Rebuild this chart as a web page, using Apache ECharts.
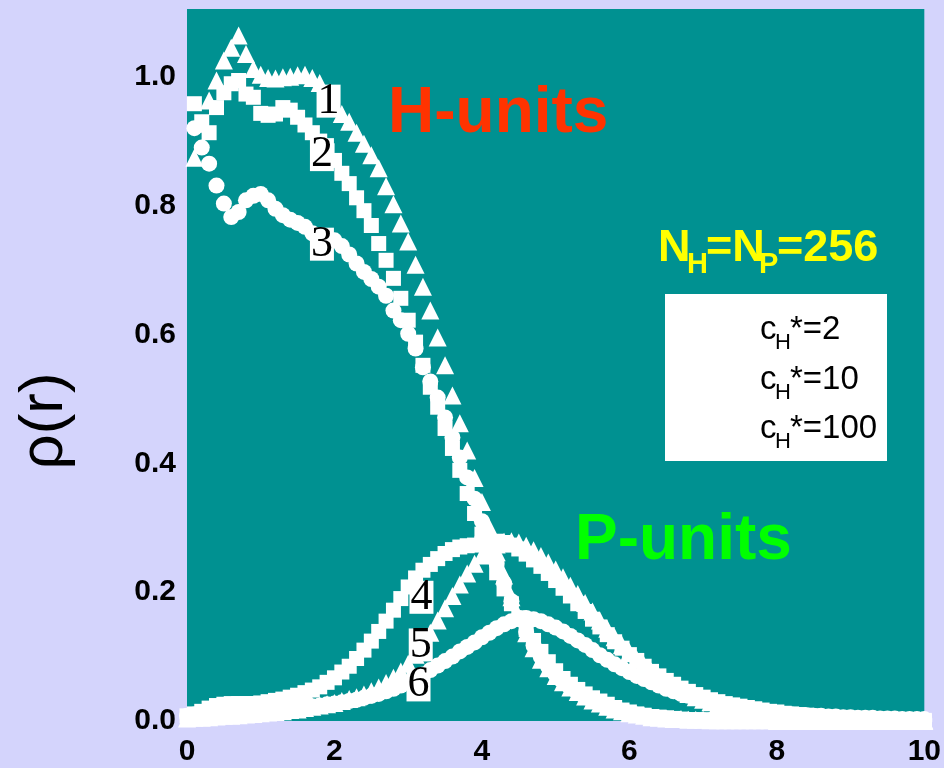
<!DOCTYPE html>
<html>
<head>
<meta charset="utf-8">
<script src="https://cdn.jsdelivr.net/npm/echarts@6/dist/echarts.min.js"></script>
<style>
  html, body { margin: 0; padding: 0; background: #d4d4fc; }
  #main { width: 944px; height: 768px; }
</style>
</head>
<body>
<div id="main"></div>
<script>
// r grid shared by all curves
const r = [0, 0.1, 0.2, 0.3, 0.4, 0.5, 0.6, 0.7, 0.8, 0.9,
  1.0, 1.1, 1.2, 1.3, 1.4, 1.5, 1.6, 1.7, 1.8, 1.9,
  2.0, 2.1, 2.2, 2.3, 2.4, 2.5, 2.6, 2.7, 2.8, 2.9,
  3.0, 3.1, 3.2, 3.3, 3.4, 3.5, 3.6, 3.7, 3.8, 3.9,
  4.0, 4.1, 4.2, 4.3, 4.4, 4.5, 4.6, 4.7, 4.8, 4.9,
  5.0, 5.1, 5.2, 5.3, 5.4, 5.5, 5.6, 5.7, 5.8, 5.9,
  6.0, 6.1, 6.2, 6.3, 6.4, 6.5, 6.6, 6.7, 6.8, 6.9,
  7.0, 7.1, 7.2, 7.3, 7.4, 7.5, 7.6, 7.7, 7.8, 7.9,
  8.0, 8.1, 8.2, 8.3, 8.4, 8.5, 8.6, 8.7, 8.8, 8.9,
  9.0, 9.1, 9.2, 9.3, 9.4, 9.5, 9.6, 9.7, 9.8, 9.9, 10.0]

// H-units (1: cH*=2 triangles, 2: cH*=10 squares, 3: cH*=100 circles)
const h1 = [null, .874, .927, .963, .994, 1.025, 1.045, 1.064, 1.035, 1.012,
  1.003, .998, .997, .999, 1.0, 1.002, 1.003, .998, .99, .972,
  .955, .942, .93, .913, .896, .878, .858, .83, .802, .772,
  .744, .708, .674, .637, .595, .552, .505, .462, .42, .377,
  .34, .30, .262, .226, .192, .162, .136, .113, .095, .082,
  .07, .06, .052, .045, .038, .032, .027, .022, .018, .015,
  .012, .01, .008, .006, .005, .004, .003, .003, .002, .002,
  .002, .001, .001, .001, .001, .001, .001, .001, .001, .001,
  0, 0, 0, 0, 0, 0, 0, 0, 0, 0,
  0, 0, 0, 0, 0, 0, 0, 0, 0, 0, 0]
const h2 = [null, .958, .93, .913, .952, .975, .989, .994, .973, .968,
  .943, .94, .942, .952, .948, .937, .925, .913, .9, .885,
  .87, .85, .834, .812, .792, .769, .741, .715, .687, .656,
  .622, .588, .552, .518, .487, .454, .423, .389, .353, .322,
  .29, .258, .23, .205, .182, .16, .142, .125, .108, .092,
  .078, .066, .057, .049, .042, .036, .031, .026, .021, .017,
  .014, .011, .009, .007, .006, .005, .004, .003, .002, .002,
  .002, .001, .001, .001, .001, .001, .001, .001, .001, .001,
  0, 0, 0, 0, 0, 0, 0, 0, 0, 0,
  0, 0, 0, 0, 0, 0, 0, 0, 0, 0, 0]
const h3 = [null, .92, .89, .865, .831, .803, .782, .79, .808, .815,
  .818, .808, .795, .785, .778, .773, .767, .757, .752, .748,
  .746, .737, .724, .71, .697, .686, .674, .66, .637, .622,
  .601, .578, .549, .527, .502, .471, .44, .409, .378, .345,
  .31, .276, .244, .214, .186, .16, .138, .117, .099, .084,
  .072, .061, .052, .044, .037, .031, .026, .021, .017, .014,
  .011, .009, .007, .006, .005, .004, .003, .002, .002, .001,
  .001, .001, .001, .001, .001, .001, .001, .001, .001, .001,
  0, 0, 0, 0, 0, 0, 0, 0, 0, 0,
  0, 0, 0, 0, 0, 0, 0, 0, 0, 0, 0]

// P-units (4 squares, 5 triangles, 6 circles)
const p4 = [.008, .011, .015, .02, .024, .026, .027, .027, .027, .027,
  .028, .03, .032, .034, .037, .04, .044, .048, .053, .06,
  .067, .076, .085, .097, .11, .124, .139, .155, .172, .19,
  .208, .222, .234, .243, .252, .26, .266, .27, .272, .273,
  .275, .278, .279, .277, .273, .267, .259, .25, .24, .229,
  .218, .206, .194, .182, .17, .158, .146, .134, .123, .113,
  .103, .094, .085, .077, .07, .063, .057, .051, .046, .041,
  .037, .033, .03, .027, .025, .023, .021, .019, .017, .015,
  .014, .012, .011, .01, .009, .008, .007, .006, .005, .005,
  .004, .004, .003, .003, .003, .002, .002, .002, .002, .001, .001]
const p5 = [.004, .005, .005, .006, .007, .008, .008, .009, .01, .011,
  .012, .013, .014, .015, .017, .018, .02, .022, .024, .026,
  .028, .031, .034, .037, .041, .046, .052, .059, .067, .077,
  .089, .103, .119, .137, .156, .175, .194, .212, .229, .244,
  .257, .267, .274, .278, .279, .277, .272, .265, .256, .246,
  .235, .223, .21, .197, .183, .17, .156, .143, .13, .118,
  .107, .096, .086, .077, .069, .061, .054, .048, .042, .037,
  .033, .029, .026, .023, .02, .018, .016, .014, .012, .011,
  .01, .009, .008, .007, .006, .005, .005, .004, .004, .003,
  .003, .003, .002, .002, .002, .002, .001, .001, .001, .001, .001]
const p6 = [.008, .01, .012, .014, .016, .017, .018, .018, .018, .018,
  .018, .018, .019, .019, .02, .021, .022, .023, .024, .026,
  .027, .029, .031, .033, .036, .039, .042, .046, .05, .055,
  .06, .066, .072, .079, .086, .093, .1, .108, .115, .122,
  .13, .137, .144, .15, .155, .158, .16, .158, .155, .15,
  .145, .139, .132, .125, .118, .11, .102, .095, .088, .082,
  .076, .07, .065, .06, .055, .05, .046, .042, .039, .036,
  .033, .03, .027, .024, .022, .02, .018, .016, .015, .013,
  .012, .011, .01, .009, .009, .008, .008, .007, .007, .006,
  .006, .005, .005, .005, .004, .004, .004, .003, .003, .003, .003]

// curve numbers placed next to the curves
const tagNames = ['1', '2', '3', '4', '5', '6']
const tagR = [1.92, 1.83, 1.83, 3.18, 3.17, 3.14]
const tagRho = [0.962, 0.879, 0.74, 0.192, 0.118, 0.056]

const xTicks = [0, 2, 4, 6, 8, 10]

function pairs(ys) {
  const out = []
  ys.forEach((v, i) => {
    if (v !== null) out.push([r[i], v])
  })
  return out
}

function curve(name, ys, symbol, size) {
  return {
    name: name,
    type: 'scatter',
    data: pairs(ys),
    symbol: symbol,
    symbolSize: size,
    clip: false,
    silent: true,
    itemStyle: { color: '#ffffff', opacity: 1 },
    emphasis: { disabled: true },
  }
}

const chart = echarts.init(document.getElementById('main'))
const sans = '"Liberation Sans", Arial, sans-serif'

const option = {
  backgroundColor: '#d4d4fc',
  animation: false,
  grid: {
    left: 187,
    right: 19,
    top: 9,
    bottom: 47,
    show: true,
    backgroundColor: '#009191',
    borderWidth: 0,
  },
  xAxis: {
    type: 'value',
    min: 0,
    max: 10,
    interval: 2,
    axisLine: { show: false },
    axisTick: { show: false },
    splitLine: { show: false },
    axisLabel: {
      color: '#000',
      fontFamily: sans,
      fontWeight: 'bold',
      fontSize: 30,
      margin: 16,
      formatter: (v) => (xTicks.indexOf(v) >= 0 ? String(v) : ''),
    },
  },
  yAxis: {
    type: 'value',
    min: 0,
    max: 1.105,
    interval: 0.2,
    axisLine: { show: false },
    axisTick: { show: false },
    splitLine: { show: false },
    axisLabel: {
      color: '#000',
      fontFamily: sans,
      fontWeight: 'bold',
      fontSize: 30,
      margin: 11,
      formatter: (v) => (v > 1.05 ? '' : v.toFixed(1)),
    },
  },
  series: [
    curve('6', p6, 'circle', 16),
    curve('5', p5, 'triangle', 18),
    curve('4', p4, 'rect', 15),
    curve('3', h3, 'circle', 16),
    curve('2', h2, 'rect', 15),
    curve('1', h1, 'triangle', 18),
    {
      name: 'tags',
      type: 'scatter',
      symbolSize: 1,
      silent: true,
      clip: false,
      z: 10,
      itemStyle: { color: 'rgba(0,0,0,0)', opacity: 1 },
      data: tagNames.map((n, i) => ({ name: n, value: [tagR[i], tagRho[i]] })),
      label: {
        show: true,
        position: 'inside',
        formatter: (p) => p.name,
        color: '#000',
        opacity: 1,
        fontFamily: '"Liberation Serif", "Times New Roman", serif',
        fontSize: 44,
        lineHeight: 32,
        backgroundColor: '#ffffff',
        padding: [1, 1, 0, 1],
      },
    },
  ],
  graphic: [
    {
      type: 'text', x: 388, y: 114, z: 20,
      style: { text: 'H-units', fill: '#ff3300', font: 'bold 64px ' + sans, textAlign: 'left', textVerticalAlign: 'middle' },
    },
    {
      type: 'text', x: 575, y: 541, z: 20,
      style: { text: 'P-units', fill: '#00ff00', font: 'bold 64px ' + sans, textAlign: 'left', textVerticalAlign: 'middle' },
    },
    // N_H = N_P = 256
    { type: 'text', x: 658, y: 249, z: 20, style: { text: 'N', fill: '#ffff00', font: 'bold 45px ' + sans, textAlign: 'left', textVerticalAlign: 'middle' } },
    { type: 'text', x: 687, y: 265, z: 20, style: { text: 'H', fill: '#ffff00', font: 'bold 29px ' + sans, textAlign: 'left', textVerticalAlign: 'middle' } },
    { type: 'text', x: 706, y: 249, z: 20, style: { text: '=N', fill: '#ffff00', font: 'bold 45px ' + sans, textAlign: 'left', textVerticalAlign: 'middle' } },
    { type: 'text', x: 759, y: 265, z: 20, style: { text: 'P', fill: '#ffff00', font: 'bold 29px ' + sans, textAlign: 'left', textVerticalAlign: 'middle' } },
    { type: 'text', x: 777, y: 249, z: 20, style: { text: '=256', fill: '#ffff00', font: 'bold 45px ' + sans, textAlign: 'left', textVerticalAlign: 'middle' } },
    // legend box
    { type: 'rect', z: 20, shape: { x: 665, y: 294, width: 222, height: 167 }, style: { fill: '#ffffff' } },
    { type: 'text', x: 760, y: 330, z: 21, style: { text: 'c', fill: '#000', font: '33px ' + sans, textVerticalAlign: 'middle' } },
    { type: 'text', x: 775, y: 343, z: 21, style: { text: 'H', fill: '#000', font: '22px ' + sans, textVerticalAlign: 'middle' } },
    { type: 'text', x: 790, y: 330, z: 21, style: { text: '*=2', fill: '#000', font: '33px ' + sans, textVerticalAlign: 'middle' } },
    { type: 'text', x: 760, y: 380, z: 21, style: { text: 'c', fill: '#000', font: '33px ' + sans, textVerticalAlign: 'middle' } },
    { type: 'text', x: 775, y: 393, z: 21, style: { text: 'H', fill: '#000', font: '22px ' + sans, textVerticalAlign: 'middle' } },
    { type: 'text', x: 790, y: 380, z: 21, style: { text: '*=10', fill: '#000', font: '33px ' + sans, textVerticalAlign: 'middle' } },
    { type: 'text', x: 760, y: 429, z: 21, style: { text: 'c', fill: '#000', font: '33px ' + sans, textVerticalAlign: 'middle' } },
    { type: 'text', x: 775, y: 442, z: 21, style: { text: 'H', fill: '#000', font: '22px ' + sans, textVerticalAlign: 'middle' } },
    { type: 'text', x: 790, y: 429, z: 21, style: { text: '*=100', fill: '#000', font: '33px ' + sans, textVerticalAlign: 'middle' } },
    // axis title
    {
      type: 'text', x: 45, y: 421, rotation: Math.PI / 2, z: 20,
      style: { text: 'ρ(r)', fill: '#000', font: '62px ' + sans, textAlign: 'center', textVerticalAlign: 'middle' },
    },
  ],
}

chart.setOption(option)
</script>
</body>
</html>
